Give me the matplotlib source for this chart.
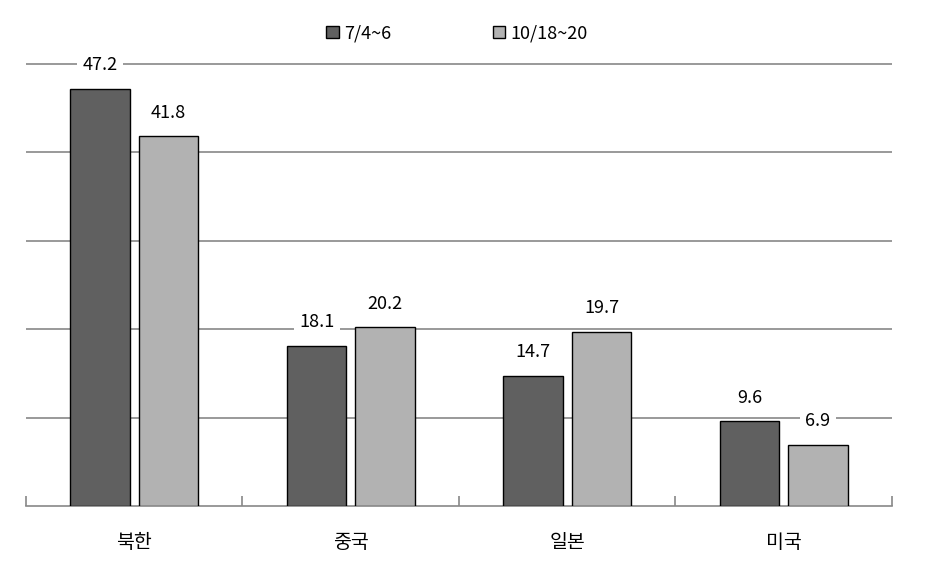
import matplotlib
matplotlib.use("Agg")
import matplotlib.pyplot as plt
import numpy as np

plt.rcParams['font.family'] = ['Noto Sans CJK KR', 'DejaVu Sans']

categories = ["북한", "중국", "일본", "미국"]
series_names = ["7/4~6", "10/18~20"]
vals_jul = [47.2, 18.1, 14.7, 9.6]
vals_oct = [41.8, 20.2, 19.7, 6.9]
colors = ["#606060", "#b2b2b2"]

# 50 на y=64 px, 0 на y=506 px; немного запаса сверху, чтобы верхняя линия сетки не обрезалась
YTOP = 50.4
px_per_unit = (506 - 64) / 50
top_px = 506 - YTOP * px_per_unit

fig = plt.figure(figsize=(9.29, 5.63), dpi=100)
ax = fig.add_axes([26 / 929, 1 - 506 / 563, (892 - 26) / 929, (506 - top_px) / 563])

x = np.arange(len(categories))
w = 0.273
off = 0.158
for vals, dx, c, name in ((vals_jul, -off, colors[0], series_names[0]),
                          (vals_oct, off, colors[1], series_names[1])):
    bars = ax.bar(x + dx, vals, w, color=c, edgecolor="black", linewidth=1,
                  label=name, zorder=3)
    for b, v in zip(bars, vals):
        ax.annotate(f"{v:.1f}", (b.get_x() + b.get_width() / 2, v),
                    xytext=(0, 17), textcoords="offset points",
                    ha="center", va="center", fontsize=13, zorder=4,
                    bbox=dict(boxstyle="square,pad=0.3", fc="white", ec="none"))

ax.set_xlim(-0.5, len(categories) - 0.5)
ax.set_ylim(0, YTOP)
ax.set_yticks([10, 20, 30, 40, 50])
ax.yaxis.grid(True, color="#888888", linewidth=1.2, zorder=0)
ax.tick_params(axis="y", left=False, labelleft=False)

ax.set_xticks(x)
ax.set_xticklabels(categories, fontsize=14)
ax.tick_params(axis="x", which="major", length=0, pad=19)
ax.set_xticks(np.arange(-0.5, len(categories)), minor=True)
ax.tick_params(axis="x", which="minor", direction="in", length=7,
               color="#888888", width=1.2)

for s in ("left", "right", "top"):
    ax.spines[s].set_visible(False)
ax.spines["bottom"].set_color("#888888")
ax.spines["bottom"].set_linewidth(1.2)

fig.legend(loc="center", bbox_to_anchor=(0.492, 0.941), ncol=2, frameon=False,
           fontsize=13, handlelength=0.7, handleheight=0.7, handletextpad=0.3,
           columnspacing=5.6)

fig.savefig("out.png", dpi=100)
